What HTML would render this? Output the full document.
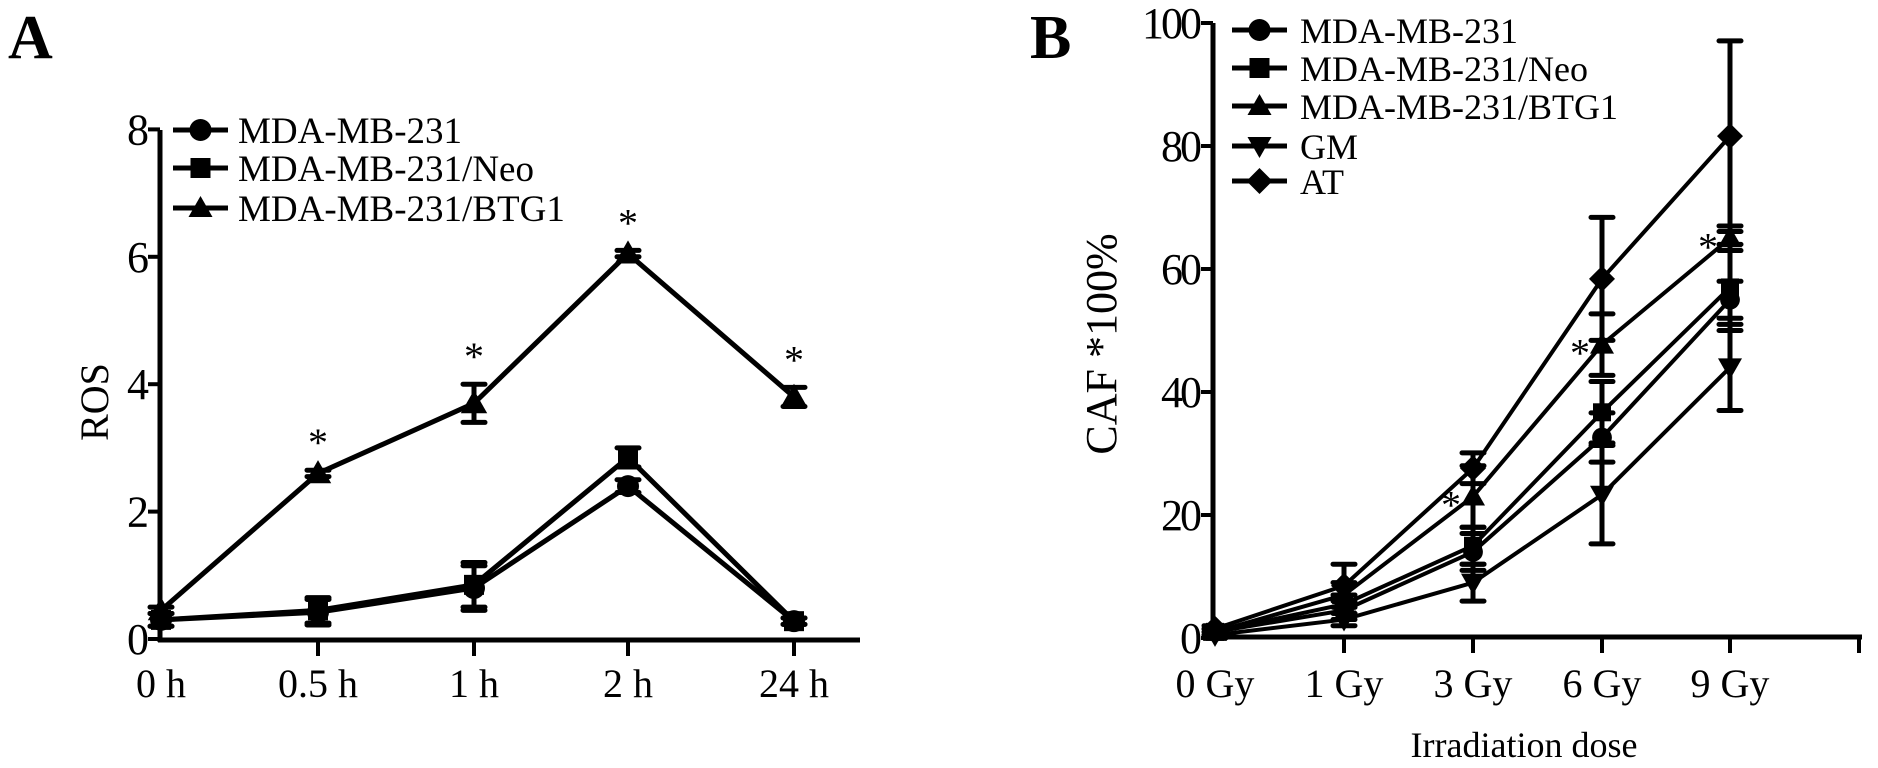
<!DOCTYPE html>
<html><head><meta charset="utf-8"><style>
html,body{margin:0;padding:0;background:#fff;}
svg{display:block;font-family:"Liberation Serif",serif;}
</style></head><body>
<svg id="fig" width="1878" height="768" viewBox="0 0 1878 768">
<text x="8" y="58" font-size="62" font-weight="bold">A</text>
<text x="1030" y="58" font-size="62" font-weight="bold">B</text>
<text transform="translate(108,402) rotate(-90)" text-anchor="middle" font-size="40">ROS</text>
<text transform="translate(1116,344) rotate(-90)" text-anchor="middle" font-size="44">CAF *100%</text>
<text x="1524" y="757" text-anchor="middle" font-size="36">Irradiation dose</text>
</svg>
<script>
// Panel A data
const catsA = ["0 h","0.5 h","1 h","2 h","24 h"];
const yTicksA = [0,2,4,6,8];
const mdaA = [0.3,0.42,0.8,2.4,0.28];
const neoA = [0.3,0.45,0.85,2.85,0.28];
const btgA = [0.45,2.6,3.7,6.05,3.8];
const errMdaA = [0.1,0.2,0.35,0.1,0.05];
const errNeoA = [0.1,0.2,0.35,0.15,0.05];
const errBtgA = [0.05,0.05,0.3,0.05,0.15];
const starsA = [false,true,true,true,true];
// Panel B data
const catsB = ["0 Gy","1 Gy","3 Gy","6 Gy","9 Gy"];
const yTicksB = [0,20,40,60,80,100];
const mdaB = [1,4.5,14,32.6,55];
const neoB = [1,5.5,15,36.7,57];
const btgB = [1,7,23,47.7,65];
const gmB = [0.5,3,9,23.3,44];
const atB = [1.5,8.5,27.6,58.4,81.6];
const errMdaB = [0.5,1.5,3,4,3];
const errNeoB = [0.5,1.5,3,5,7];
const errBtgB = [0.5,2,5,5,2];
const errGmB = [0.5,1,3,8,7];
const errAtB = [0.5,3.5,2.5,10,15.5];
const starsB = [false,false,true,true,true];

const svg = document.getElementById('fig');
const NS = 'http://www.w3.org/2000/svg';
function mk(tag, attrs){const e=document.createElementNS(NS,tag);for(const k in attrs)e.setAttribute(k,attrs[k]);svg.appendChild(e);return e;}

const xA = i => [161,318,474,628,794][i];
const yA = v => 639 - v*63.7;
const xB = i => [1215,1344,1473,1602,1730][i];
const yB = v => 638 - v*6.15;

function axes(x0,xEnd,yTop,yBase,xf,cats,yt,yf,prefix,extraTick,labOff){
  let e=mk('line',{x1:x0,y1:yTop,x2:x0,y2:yBase+2,stroke:'#000','stroke-width':5});
  
  
  e=mk('line',{x1:x0-2,y1:yBase,x2:xEnd,y2:yBase,stroke:'#000','stroke-width':5});
  
  
  yt.forEach(v=>{
    const y=yf(v);
    let t=mk('line',{x1:x0-12,y1:y,x2:x0,y2:y,stroke:'#000','stroke-width':4});
    
    
    let l=mk('text',{x:x0-14,y:y+15,'text-anchor':'end','font-size':44,'letter-spacing':-3});
    l.textContent=v;
    
    
  });
  cats.forEach((c,i)=>{
    const x=xf(i);
    if(i>0){let t=mk('line',{x1:x,y1:yBase,x2:x,y2:yBase+16,stroke:'#000','stroke-width':4});
    
    }
    let l=mk('text',{x:x,y:yBase+labOff,'text-anchor':'middle','font-size':40});
    l.textContent=c;
    
    
  });
  if(extraTick){let t=mk('line',{x1:extraTick,y1:yBase,x2:extraTick,y2:yBase+16,stroke:'#000','stroke-width':4});
    
    }
}
axes(160,860,130,640,xA,catsA,yTicksA,yA,'a',null,57);
axes(1213,1862,23,637,xB,catsB,yTicksB,yB,'b',1859,60);

function marker(type,x,y,s){
  let e;
  if(type==='circle') e=mk('circle',{cx:x,cy:y,r:s*0.55,fill:'#000'});
  else if(type==='square') e=mk('rect',{x:x-s*0.5,y:y-s*0.5,width:s,height:s,fill:'#000'});
  else if(type==='tri') e=mk('polygon',{points:`${x},${y-s*0.6} ${x-s*0.6},${y+s*0.45} ${x+s*0.6},${y+s*0.45}`,fill:'#000'});
  else if(type==='itri') e=mk('polygon',{points:`${x},${y+s*0.6} ${x-s*0.6},${y-s*0.45} ${x+s*0.6},${y-s*0.45}`,fill:'#000'});
  else e=mk('polygon',{points:`${x},${y-s*0.65} ${x+s*0.65},${y} ${x},${y+s*0.65} ${x-s*0.65},${y}`,fill:'#000'});
  return e;
}
function series(vals,errs,xf,yf,type,name,sw,ms){
  const pts=vals.map((v,i)=>xf(i)+','+yf(v)).join(' ');
  let p=mk('polyline',{points:pts,fill:'none',stroke:'#000','stroke-width':sw});
  
  
  vals.forEach((v,i)=>{
    const x=xf(i),y1=yf(v+errs[i]),y2=yf(v-errs[i]);
    let g=mk('path',{d:`M${x},${y1}V${y2}M${x-11},${y1}H${x+11}M${x-11},${y2}H${x+11}`,stroke:'#000','stroke-width':5,'stroke-linecap':'round',fill:'none'});
    
    
    let m=marker(type,x,yf(v),ms);
    
    
  });
}
series(mdaA,errMdaA,xA,yA,'circle','a-mda-mb-231',5,20);
series(neoA,errNeoA,xA,yA,'square','a-mda-mb-231-neo',5,20);
series(btgA,errBtgA,xA,yA,'tri','a-mda-mb-231-btg1',5,22);
starsA.forEach((s,i)=>{ if(!s) return;
  let t=mk('text',{x:xA(i),y:yA(btgA[i]+errBtgA[i])-14,'text-anchor':'middle','font-size':40});
  t.textContent='*';
  
  
});
series(mdaB,errMdaB,xB,yB,'circle','b-mda-mb-231',4,18);
series(neoB,errNeoB,xB,yB,'square','b-mda-mb-231-neo',4,18);
series(btgB,errBtgB,xB,yB,'tri','b-mda-mb-231-btg1',4,20);
series(gmB,errGmB,xB,yB,'itri','b-gm',4,20);
series(atB,errAtB,xB,yB,'diamond','b-at',4,20);
starsB.forEach((s,i)=>{ if(!s) return;
  let t=mk('text',{x:xB(i)-22,y:yB(btgB[i])+22,'text-anchor':'middle','font-size':40});
  t.textContent='*';
  
  
});

function legend(x1,x2,tx,rows,labels,types,fs,prefix){
  labels.forEach((lab,i)=>{
    const y=rows[i];
    let l=mk('line',{x1:x1,y1:y,x2:x2,y2:y,stroke:'#000','stroke-width':5});
    
    
    let m=marker(types[i],(x1+x2)/2,y,20);
    
    
    let t=mk('text',{x:tx,y:y+13,'font-size':fs});
    t.textContent=lab;
    
    
  });
}
legend(173,228,238,[130,168,208],["MDA-MB-231","MDA-MB-231/Neo","MDA-MB-231/BTG1"],['circle','square','tri'],37,'a');
legend(1232,1287,1300,[30,68,106,146,181],["MDA-MB-231","MDA-MB-231/Neo","MDA-MB-231/BTG1","GM","AT"],['circle','square','tri','itri','diamond'],36,'b');
</script>
</body></html>
